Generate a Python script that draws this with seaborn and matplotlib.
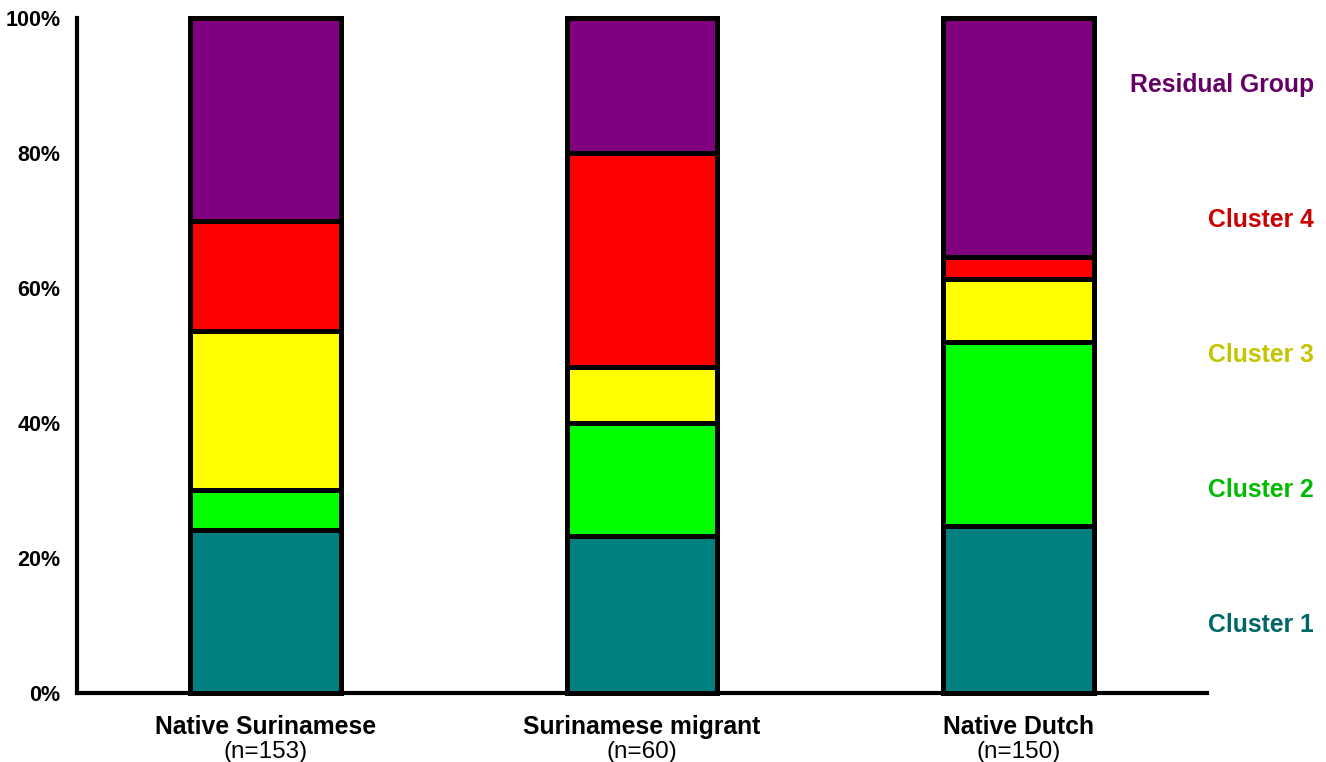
import matplotlib
matplotlib.use("Agg")
import matplotlib.pyplot as plt
import seaborn as sns
import numpy as np
import pandas as pd

sns.set_style("white")
plt.rcParams["font.family"] = ["Liberation Sans", "DejaVu Sans"]
plt.rcParams["text.color"] = "black"
plt.rcParams["xtick.color"] = "black"
plt.rcParams["ytick.color"] = "black"

groups = ["Native Surinamese", "Surinamese migrant", "Native Dutch"]
group_n = [153, 60, 150]
clusters = ["Cluster 1", "Cluster 2", "Cluster 3", "Cluster 4", "Residual Group"]

# percentage of each group per cluster
cluster1 = [24.2, 23.3, 24.7]
cluster2 = [5.9, 16.7, 27.3]
cluster3 = [23.5, 8.3, 9.3]
cluster4 = [16.3, 31.7, 3.3]
residual = [30.1, 20.0, 35.4]

fill_colors = ["#008080", "#00ff00", "#ffff00", "#ff0000", "#800080"]
label_colors = ["#006666", "#00bb00", "#c4c400", "#cc0000", "#660066"]
label_y = [10, 30, 50, 70, 90]

fig = plt.figure(figsize=(13.26, 7.62), dpi=100)
ax = fig.add_axes([0.0581, 0.0906, 0.9103 - 0.0581, 0.9764 - 0.0906])

series = [cluster1, cluster2, cluster3, cluster4, residual]
bottom = np.zeros(len(groups))
for vals, col in zip(series, fill_colors):
    df = pd.DataFrame({"group": groups, "pct": vals})
    sns.barplot(data=df, x="group", y="pct", order=groups, color=col,
                bottom=bottom, width=0.4, edgecolor="black", linewidth=3.6,
                saturation=1, ax=ax, errorbar=None, zorder=3)
    bottom = bottom + np.array(vals)

for p in ax.patches:
    p.set_clip_on(False)

ax.set_xlim(-0.5, 2.5)
ax.set_ylim(0, 100)
ax.set_yticks([0, 20, 40, 60, 80, 100])
ax.set_yticklabels([f"{v}%" for v in [0, 20, 40, 60, 80, 100]],
                   fontsize=15.5, fontweight="bold")
ax.tick_params(axis="y", length=0, pad=12)
ax.tick_params(axis="x", length=0, pad=16)
ax.set_xticks(range(len(groups)))
ax.set_xticklabels(groups, fontsize=17.8, fontweight="bold")
ax.set_xlabel("")
ax.set_ylabel("")

for i, n in enumerate(group_n):
    ax.text(i, -8.7, f"(n={n})", ha="center", va="center", fontsize=17.5,
            clip_on=False)

for name, col, y in zip(clusters, label_colors, label_y):
    ax.text(2.783, y, name, ha="right", va="center", fontsize=17.8,
            fontweight="bold", color=col, clip_on=False)

for s in ["top", "right"]:
    ax.spines[s].set_visible(False)
for s in ["left", "bottom"]:
    ax.spines[s].set_linewidth(3)
    ax.spines[s].set_color("black")

fig.savefig("out.png", dpi=100)
